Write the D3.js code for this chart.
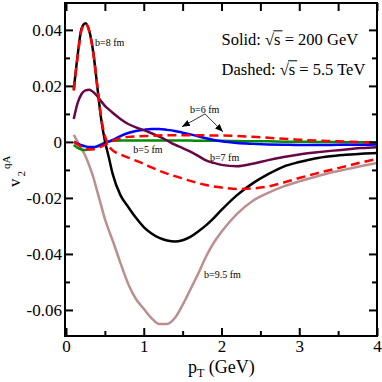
<!DOCTYPE html>
<html>
<head>
<meta charset="utf-8">
<script src="https://cdn.jsdelivr.net/npm/d3@7"></script>
<style>
  html, body { margin: 0; padding: 0; background: #fff; }
  svg { display: block; }
  svg text { font-family: 'Liberation Serif', 'Times New Roman', 'Nimbus Roman', 'DejaVu Serif', serif !important; }
</style>
</head>
<body>
<svg id="chart" width="382" height="382"></svg>
<script>
// ---------------- DATA ----------------
const pT = [0.1,0.15,0.2,0.25,0.3,0.35,0.4,0.45,0.5,0.55,0.6,0.7,0.8,0.9,1.0,1.1,1.2,1.3,1.4,1.5,1.6,1.7,1.8,1.9,2.0,2.2,2.4,2.6,2.8,3.0,3.2,3.4,3.6,3.8,4.0];

// b = 8 fm, sqrt(s) = 200 GeV (solid black)
const v2_b8_200 = [0.0186,0.0310,0.0405,0.0424,0.0396,0.0321,0.0204,0.0086,0.0004,-0.0054,-0.0114,-0.0190,-0.0232,-0.0271,-0.0304,-0.0327,-0.0343,-0.0352,-0.0356,-0.0351,-0.0339,-0.0320,-0.0298,-0.0272,-0.0243,-0.0190,-0.0148,-0.0115,-0.0088,-0.0072,-0.0059,-0.0051,-0.0046,-0.0042,-0.0040];
// b = 8 fm, sqrt(s) = 5.5 TeV (dashed red)
const v2_b8_5500 = [0.0183,0.0305,0.0400,0.0422,0.0394,0.0320,0.0205,0.0090,0.0022,-0.0014,-0.0030,-0.0045,-0.0056,-0.0067,-0.0078,-0.0091,-0.0103,-0.0113,-0.0122,-0.0131,-0.0139,-0.0147,-0.0154,-0.0159,-0.0163,-0.0168,-0.0166,-0.0159,-0.0145,-0.0129,-0.0114,-0.0100,-0.0087,-0.0073,-0.0061];
// b = 7 fm, 200 GeV (solid purple)
const v2_b7_200 = [0.0082,0.0139,0.0171,0.0184,0.0186,0.0178,0.0164,0.0146,0.0129,0.0116,0.0104,0.0082,0.0064,0.0052,0.0042,0.0031,0.0019,0.0005,-0.0010,-0.0022,-0.0035,-0.0050,-0.0066,-0.0075,-0.0082,-0.0087,-0.0078,-0.0065,-0.0054,-0.0045,-0.0038,-0.0032,-0.0027,-0.0022,-0.0019];
// b = 6 fm, 200 GeV (solid blue)
const v2_b6_200 = [0.0001,-0.0006,-0.0012,-0.0016,-0.0018,-0.0018,-0.0016,-0.0011,-0.0005,0.0001,0.0007,0.0021,0.0032,0.0039,0.0043,0.0046,0.0046,0.0043,0.0039,0.0033,0.0027,0.0020,0.0013,0.0007,0.0002,-0.0004,-0.0007,-0.0009,-0.0010,-0.0011,-0.0011,-0.0011,-0.0010,-0.0010,-0.0009];
// b = 6 fm, 5.5 TeV (dashed red)
const v2_b6_5500 = [0.0000,-0.0009,-0.0018,-0.0024,-0.0027,-0.0026,-0.0023,-0.0017,-0.0011,-0.0003,0.0004,0.0013,0.0018,0.0020,0.0021,0.0022,0.0023,0.0024,0.0024,0.0024,0.0024,0.0024,0.0023,0.0023,0.0023,0.0021,0.0018,0.0015,0.0011,0.0008,0.0005,0.0003,0.0001,-0.0001,-0.0002];
// b = 5 fm, 200 GeV (solid green)
const v2_b5_200 = [-0.0011,-0.0021,-0.0027,-0.0029,-0.0026,-0.0021,-0.0016,-0.0009,-0.0002,0.0002,0.0004,0.0005,0.0005,0.0005,0.0005,0.0005,0.0005,0.0005,0.0005,0.0005,0.0005,0.0004,0.0004,0.0004,0.0004,0.0003,0.0002,0.0002,0.0001,0.0001,0.0000,0.0000,-0.0001,-0.0001,-0.0002];
// b = 9.5 fm, 200 GeV (solid rosy brown)
const v2_b95_200 = [0.0025,0.0000,-0.0025,-0.0050,-0.0085,-0.0125,-0.0175,-0.0225,-0.0275,-0.0315,-0.0352,-0.0432,-0.0507,-0.0561,-0.0596,-0.0629,-0.0650,-0.0650,-0.0629,-0.0582,-0.0527,-0.0471,-0.0410,-0.0360,-0.0321,-0.0257,-0.0211,-0.0182,-0.0159,-0.0141,-0.0125,-0.0110,-0.0098,-0.0086,-0.0075];

const xMajorTicks = [0, 1, 2, 3, 4];
const xMinorTicks = [0.5, 1.5, 2.5, 3.5];
const yMajorTicks = [-0.06, -0.04, -0.02, 0, 0.02, 0.04];
const yMajorLabels = ["-0.06", "-0.04", "-0.02", "0", "0.02", "0.04"];
const yMinorTicks = [-0.05, -0.03, -0.01, 0.01, 0.03];

const curveLabels = [
  { text: "b=8 fm",   x: 0.373, y: 0.0343 },
  { text: "b=6 fm",   x: 1.595, y: 0.0105 },
  { text: "b=5 fm",   x: 0.866, y: -0.0038 },
  { text: "b=7 fm",   x: 1.852, y: -0.0068 },
  { text: "b=9.5 fm", x: 1.775, y: -0.0487 }
];
const arrowFrom = { x: 1.788, y: 0.0100 };
const arrowTips = [ { x: 1.492, y: 0.0054 }, { x: 2.019, y: 0.0036 } ];

const legendLines = [
  { pre: "Solid: ",  post: " = 200 GeV", x: 2.0, y: 0.0346 },
  { pre: "Dashed: ", post: " = 5.5 TeV", x: 2.0, y: 0.0239 }
];

// ---------------- CHART ----------------
const SERIF = "'Liberation Serif', 'Times New Roman', 'Nimbus Roman', 'DejaVu Serif', serif";
const svg = d3.select("#chart");
const L = 66, R = 377, T = 3, B = 336;
const x = d3.scaleLinear().domain([0, 4]).range([L, R]);
const y = d3.scaleLinear().domain([-0.0693, 0.0496]).range([B, T]);

const defs = svg.append("defs");
defs.append("clipPath").attr("id", "clip")
  .append("rect").attr("x", L).attr("y", T).attr("width", R - L).attr("height", B - T);
defs.append("marker").attr("id", "arrow")
  .attr("viewBox", "0 0 10 10").attr("refX", 10).attr("refY", 5)
  .attr("markerWidth", 8).attr("markerHeight", 8)
  .attr("markerUnits", "userSpaceOnUse")
  .attr("orient", "auto")
  .append("path").attr("d", "M0,1 L10,5 L0,9 Z").attr("fill", "#000");

const series = [
  { values: v2_b95_200, color: "rgb(188,143,143)", dash: null },
  { values: v2_b5_200,  color: "rgb(0,139,0)",     dash: null },
  { values: v2_b6_200,  color: "rgb(0,0,255)",     dash: null },
  { values: v2_b7_200,  color: "rgb(103,7,72)",    dash: null },
  { values: v2_b8_200,  color: "#000000",          dash: null },
  { values: v2_b6_5500, color: "rgb(255,0,0)",     dash: "9,5" },
  { values: v2_b8_5500, color: "rgb(255,0,0)",     dash: "9,5" }
];

const line = d3.line()
  .x((d, i) => x(pT[i]))
  .y(d => y(d))
  .curve(d3.curveMonotoneX);

const gLines = svg.append("g").attr("clip-path", "url(#clip)");
series.forEach(s => {
  gLines.append("path")
    .attr("d", line(s.values))
    .attr("fill", "none")
    .attr("stroke", s.color)
    .attr("stroke-width", 2.5)
    .attr("stroke-dasharray", s.dash)
    .attr("stroke-linejoin", "round");
});

// Axes
function styleAxis(g) {
  g.attr("font-family", null).attr("font-size", null);
  g.select(".domain").remove();
  g.selectAll(".tick line").attr("stroke", "#000").attr("stroke-width", 2);
  g.selectAll("text").style("font-family", SERIF).style("font-size", "17px").attr("fill", "#000");
}
// bottom
svg.append("g").attr("transform", `translate(0,${B})`)
  .call(d3.axisBottom(x).tickValues(xMajorTicks).tickFormat(d3.format("d"))
    .tickSizeInner(-8).tickSizeOuter(0).tickPadding(4)).call(styleAxis);
svg.append("g").attr("transform", `translate(0,${B})`)
  .call(d3.axisBottom(x).tickValues(xMinorTicks).tickFormat("")
    .tickSizeInner(-5).tickSizeOuter(0)).call(styleAxis);
// top
svg.append("g").attr("transform", `translate(0,${T})`)
  .call(d3.axisTop(x).tickValues(xMajorTicks.concat(xMinorTicks)).tickFormat("")
    .tickSizeInner(-8).tickSizeOuter(0)).call(styleAxis);
// left
svg.append("g").attr("transform", `translate(${L - 1},0)`)
  .call(d3.axisLeft(y).tickValues(yMajorTicks).tickFormat((d, i) => yMajorLabels[i])
    .tickSizeInner(-8).tickSizeOuter(0).tickPadding(3)).call(styleAxis);
svg.append("g").attr("transform", `translate(${L - 1},0)`)
  .call(d3.axisLeft(y).tickValues(yMinorTicks).tickFormat("")
    .tickSizeInner(-5).tickSizeOuter(0)).call(styleAxis);
// right
svg.append("g").attr("transform", `translate(${R},0)`)
  .call(d3.axisRight(y).tickValues(yMajorTicks).tickFormat("")
    .tickSizeInner(-8).tickSizeOuter(0)).call(styleAxis);
svg.append("g").attr("transform", `translate(${R},0)`)
  .call(d3.axisRight(y).tickValues(yMinorTicks).tickFormat("")
    .tickSizeInner(-5).tickSizeOuter(0)).call(styleAxis);

// frame
svg.append("rect").attr("x", L - 1).attr("y", T).attr("width", R - L + 1).attr("height", B - T)
  .attr("fill", "none").attr("stroke", "#000").attr("stroke-width", 2);

// axis titles
const xt = svg.append("text").attr("x", 188).attr("y", 373)
  .style("font-family", SERIF).style("font-size", "18px").attr("fill", "#000");
xt.append("tspan").text("p");
xt.append("tspan").style("font-size", "12px").attr("dy", 4).text("T");
xt.append("tspan").attr("dy", -4).text(" (GeV)");

const yt = svg.append("text").attr("transform", "translate(20,187) rotate(-90)")
  .style("font-family", SERIF).style("font-size", "17px").attr("fill", "#000");
yt.append("tspan").text("v");
yt.append("tspan").style("font-size", "11px").attr("dy", 5).attr("dx", 2).text("2");
yt.append("tspan").style("font-size", "11px").attr("dy", -15).attr("dx", 2).text("qA");

// curve labels
svg.append("g").selectAll("text").data(curveLabels).join("text")
  .attr("x", d => x(d.x)).attr("y", d => y(d.y))
  .style("font-family", SERIF).style("font-size", "10px").attr("fill", "#000")
  .text(d => d.text);

// arrows
svg.append("g").selectAll("line").data(arrowTips).join("line")
  .attr("x1", x(arrowFrom.x)).attr("y1", y(arrowFrom.y))
  .attr("x2", d => x(d.x)).attr("y2", d => y(d.y))
  .attr("stroke", "#000").attr("stroke-width", 0.8)
  .attr("marker-end", "url(#arrow)");

// legend text with sqrt overline
const lfs = 16.5;
legendLines.forEach(l => {
  const t = svg.append("text").attr("x", x(l.x)).attr("y", y(l.y))
    .style("font-family", SERIF).style("font-size", lfs + "px").attr("fill", "#000")
    .text(l.pre + "\u221As" + l.post);
  const node = t.node();
  const iRoot = l.pre.length;
  const eRoot = node.getExtentOfChar(iRoot);
  const eS = node.getExtentOfChar(iRoot + 1);
  const yb = y(l.y) - lfs * 0.86;
  svg.append("line")
    .attr("x1", eRoot.x + eRoot.width - 0.8).attr("x2", eS.x + eS.width + 2)
    .attr("y1", yb).attr("y2", yb)
    .attr("stroke", "#000").attr("stroke-width", 1);
});
</script>
</body>
</html>
